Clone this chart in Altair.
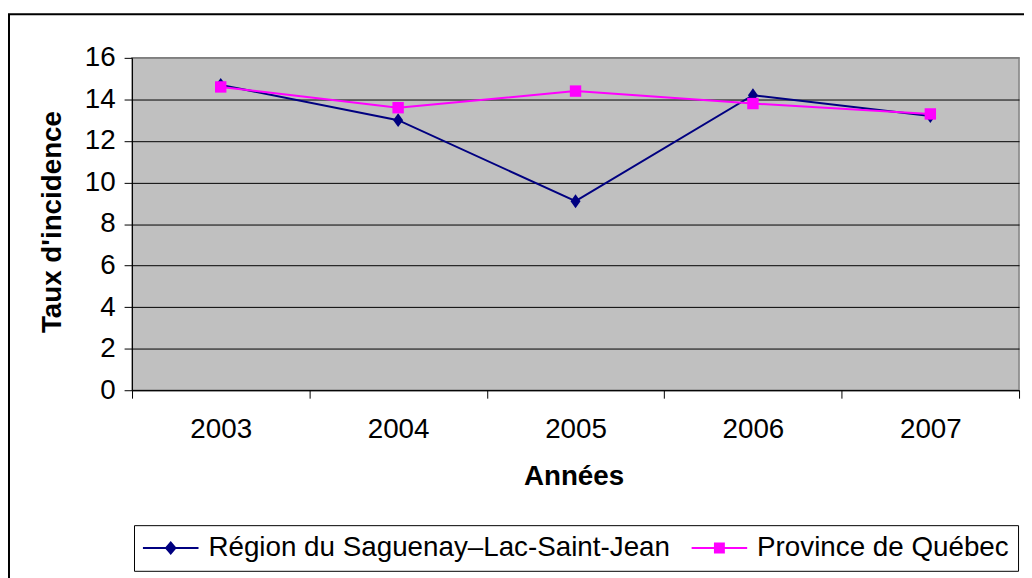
import altair as alt
import pandas as pd

years = ["2003", "2004", "2005", "2006", "2007"]
saguenay = [14.7, 13.0, 9.1, 14.2, 13.2]
quebec = [14.6, 13.6, 14.4, 13.8, 13.3]
series_names = ["Région du Saguenay–Lac-Saint-Jean", "Province de Québec"]
series_colors = ["#000080", "#FF00FF"]
y_ticks = [0, 2, 4, 6, 8, 10, 12, 14, 16]

rows = []
for name, vals in zip(series_names, [saguenay, quebec]):
    for yr, v in zip(years, vals):
        rows.append({"Année": yr, "Série": name, "Taux": v})
df = pd.DataFrame(rows)

W, H = 894, 335
FONT = "Liberation Sans"

x_enc = alt.X(
    "Année:O",
    sort=years,
    scale=alt.Scale(type="band", paddingInner=0, paddingOuter=0),
    axis=alt.Axis(
        title="Années", labelAngle=0, tickBand="extent", grid=False,
        domainColor="black", tickColor="black", tickSize=8,
        labelFont=FONT, labelFontSize=28, labelColor="black", labelPadding=18,
        titleFont=FONT, titleFontSize=28, titleFontWeight="bold", titleColor="black",
        titleX=445, titleY=87, titleBaseline="middle", titleAlign="center",
    ),
)
y_enc = alt.Y(
    "Taux:Q",
    scale=alt.Scale(domain=[0, 16], nice=False, zero=True),
    axis=alt.Axis(
        title="Taux d'incidence", values=y_ticks, grid=True,
        gridColor={"condition": {"test": "datum.value === 16", "value": "#808080"}, "value": "black"},
        gridWidth=1, domainColor="black", tickColor="black", tickSize=8,
        labelFont=FONT, labelFontSize=28, labelColor="black", labelPadding=9,
        titleFont=FONT, titleFontSize=28, titleFontWeight="bold", titleColor="black",
        titleX=-80, titleY=165, titleBaseline="middle", titleAlign="center", titleAngle=270,
    ),
)

color_nolegend = alt.Color("Série:N", scale=alt.Scale(domain=series_names, range=series_colors), legend=None)

frame = alt.Chart(pd.DataFrame({"k": [0]})).mark_rect(
    filled=False, stroke="black", strokeWidth=2
).encode(x=alt.value(-124), x2=alt.value(930), y=alt.value(-44), y2=alt.value(600))

lines = alt.Chart(df).mark_line(strokeWidth=2).encode(x=x_enc, y=y_enc, color=color_nolegend)

diamond = "M0,-1L0.72,0L0,1L-0.72,0Z"
points = alt.Chart(df).mark_point(filled=True, opacity=1, strokeWidth=0).encode(
    x=x_enc, y=y_enc, color=color_nolegend,
    shape=alt.Shape("Série:N", scale=alt.Scale(domain=series_names, range=[diamond, "square"]), legend=None),
    size=alt.Size("Série:N", scale=alt.Scale(domain=series_names, range=[196, 132]), legend=None),
)

leg_diamond = "M-2.8,-0.1H2.8V0.1H-2.8Z M0,-0.7L0.6,0L0,0.7L-0.6,0Z"
leg_square = "M-2.8,-0.1H2.8V0.1H-2.8Z M-0.55,-0.55H0.55V0.55H-0.55Z"
legend_layer = alt.Chart(df).mark_point(filled=True, opacity=0).encode(
    x=x_enc, y=y_enc,
    color=alt.Color("Série:N", scale=alt.Scale(domain=series_names, range=series_colors),
                    legend=alt.Legend(title=None)),
    shape=alt.Shape("Série:N", scale=alt.Scale(domain=series_names, range=[leg_diamond, leg_square]),
                    legend=alt.Legend(title=None)),
)

chart = alt.layer(frame, lines, points, legend_layer).resolve_scale(
    color="independent", shape="independent", size="independent"
).properties(
    width=W, height=H,
    padding={"left": 125, "top": 48, "right": 5, "bottom": 187},
    autosize=alt.AutoSizeParams(type="none"),
    background="white",
).configure_view(
    fill="#C0C0C0", stroke="#808080", strokeWidth=1.5
).configure_legend(
    orient="none", legendX=2, legendY=471, direction="horizontal",
    strokeColor="black", fillColor="white", padding=9, cornerRadius=0,
    labelFont=FONT, labelFontSize=28, labelColor="black", labelLimit=0,
    symbolSize=400, symbolOffset=14, labelOffset=24, columnPadding=21,
    symbolStrokeWidth=0, symbolOpacity=1,
)

chart.save("out.html", embed_options={"renderer": "svg", "actions": False})
